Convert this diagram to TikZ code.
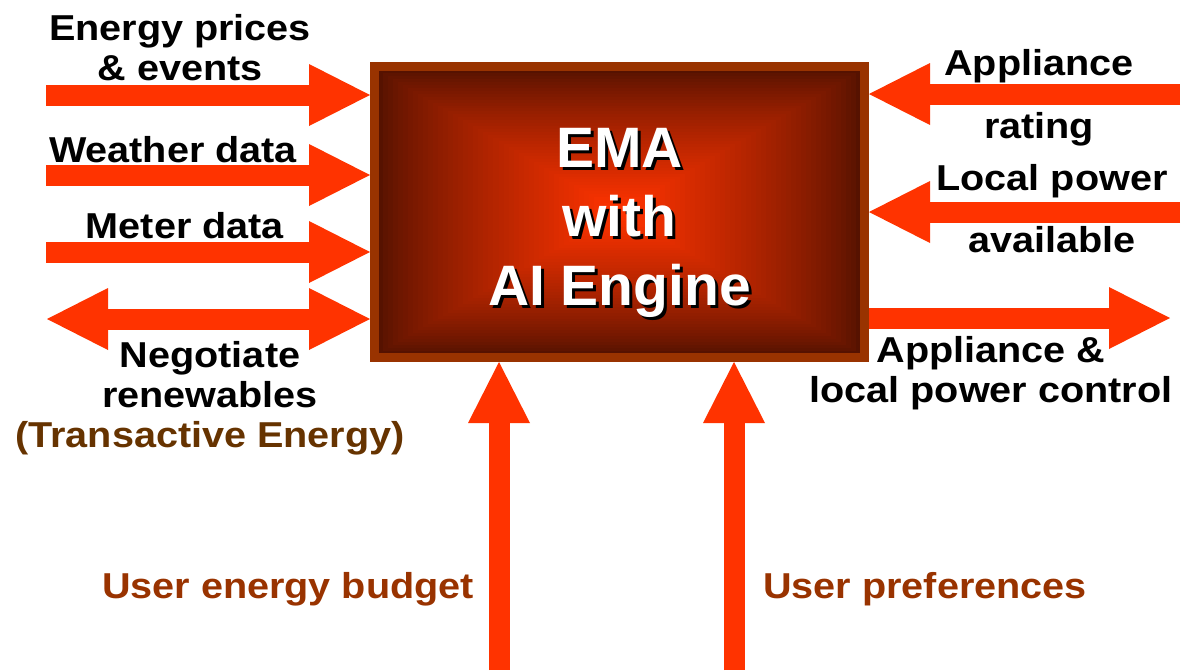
\documentclass[tikz,border=0pt]{standalone}
\usepackage{fontspec}
\setmainfont{Liberation Sans}
\newfontfamily\labelfont{Liberation Sans}[FakeStretch=1.1]
\usetikzlibrary{arrows.meta}
\definecolor{flowred}{HTML}{FF3300}
\definecolor{emadark}{HTML}{561200}
\definecolor{emaborder}{HTML}{993300}
\definecolor{userbrown}{HTML}{993300}
\definecolor{tebrown}{HTML}{663300}
\tikzset{
  emabox/.style   = {draw=emaborder, line width=9pt, minimum width=490pt,
                     minimum height=291pt, inner sep=0pt},
  flow/.style     = {draw=flowred, line width=21pt,
                     -{Triangle[length=61pt,width=62pt,line width=0pt]}},
  flowboth/.style = {draw=flowred, line width=21pt,
                     {Triangle[length=61pt,width=62pt,line width=0pt]}-{Triangle[length=61pt,width=62pt,line width=0pt]}},
  lbl/.style      = {font=\labelfont\bfseries\fontsize{36}{40}\selectfont,
                     align=center, anchor=base, inner sep=0pt},
  emafont/.style  = {font=\bfseries\fontsize{57}{69}\selectfont,
                     align=center, anchor=base, inner sep=0pt},
}

\begin{document}
\begin{tikzpicture}[x=1pt,y=-1pt]
\useasboundingbox (0,0) rectangle (1184,670);
% rectangular gradient inside the box
\coordinate (ema-c) at (619.5,212);
\foreach \i in {0,...,47} {
  \pgfmathsetmacro\s{1-\i/48}
  \pgfmathsetmacro\p{100*(\i/47)^0.8}
  \fill[flowred!\p!emadark, shift={(ema-c)}]
    (-242*\s,-142*\s) rectangle (242*\s,142*\s);
}
\node[emabox] (ema) at (ema-c) {};
% base anchor of a multi-line node sits on its last line
\node[emafont, text=black] (emashadow) at (622.5,308) {EMA\\with\\AI Engine};
\node[emafont, text=white] (ematext) at (619.5,305) {EMA\\with\\AI Engine};
% inputs on the left
\coordinate (prices-src) at (46,95);
\coordinate (weather-src) at (46,175);
\coordinate (meter-src) at (46,252);
\coordinate (negotiate-src) at (47,319);
\draw[flow] (prices-src) -- (prices-src -| ema.west);
\draw[flow] (weather-src) -- (weather-src -| ema.west);
\draw[flow] (meter-src) -- (meter-src -| ema.west);
\draw[flowboth] (negotiate-src) -- (negotiate-src -| ema.west);
% right side
\coordinate (rating-src) at (1180,94);
\coordinate (local-src) at (1180,212);
\coordinate (control-dst) at (1170,318);
\draw[flow] (rating-src) -- (rating-src -| ema.east);
\draw[flow] (local-src) -- (local-src -| ema.east);
\draw[flow] (control-dst -| ema.east) -- (control-dst);
% user inputs from below
\coordinate (budget-src) at (499,670);
\coordinate (prefs-src) at (734,670);
\draw[flow] (budget-src) -- (budget-src |- ema.south);
\draw[flow] (prefs-src) -- (prefs-src |- ema.south);
% labels
\node[lbl] (prices) at (180,80) {Energy prices\\\& events};
\node[lbl] (weather) at (173,162) {Weather data};
\node[lbl] (meter) at (185,238) {Meter data};
\node[lbl] (negotiate) at (210,447) {Negotiate\\renewables\\\textcolor{tebrown}{(Transactive Energy)}};
\node[lbl] (rating1) at (1039,75) {Appliance};
\node[lbl] (rating2) at (1039,138) {rating};
\node[lbl] (local1) at (1052,190) {Local power};
\node[lbl] (local2) at (1052,252) {available};
\node[lbl] (control) at (991,402) {Appliance \&\\local power control};
\node[lbl, text=userbrown] (budget) at (288,598) {User energy budget};
\node[lbl, text=userbrown] (prefs) at (925,598) {User preferences};
\end{tikzpicture}
\end{document}
